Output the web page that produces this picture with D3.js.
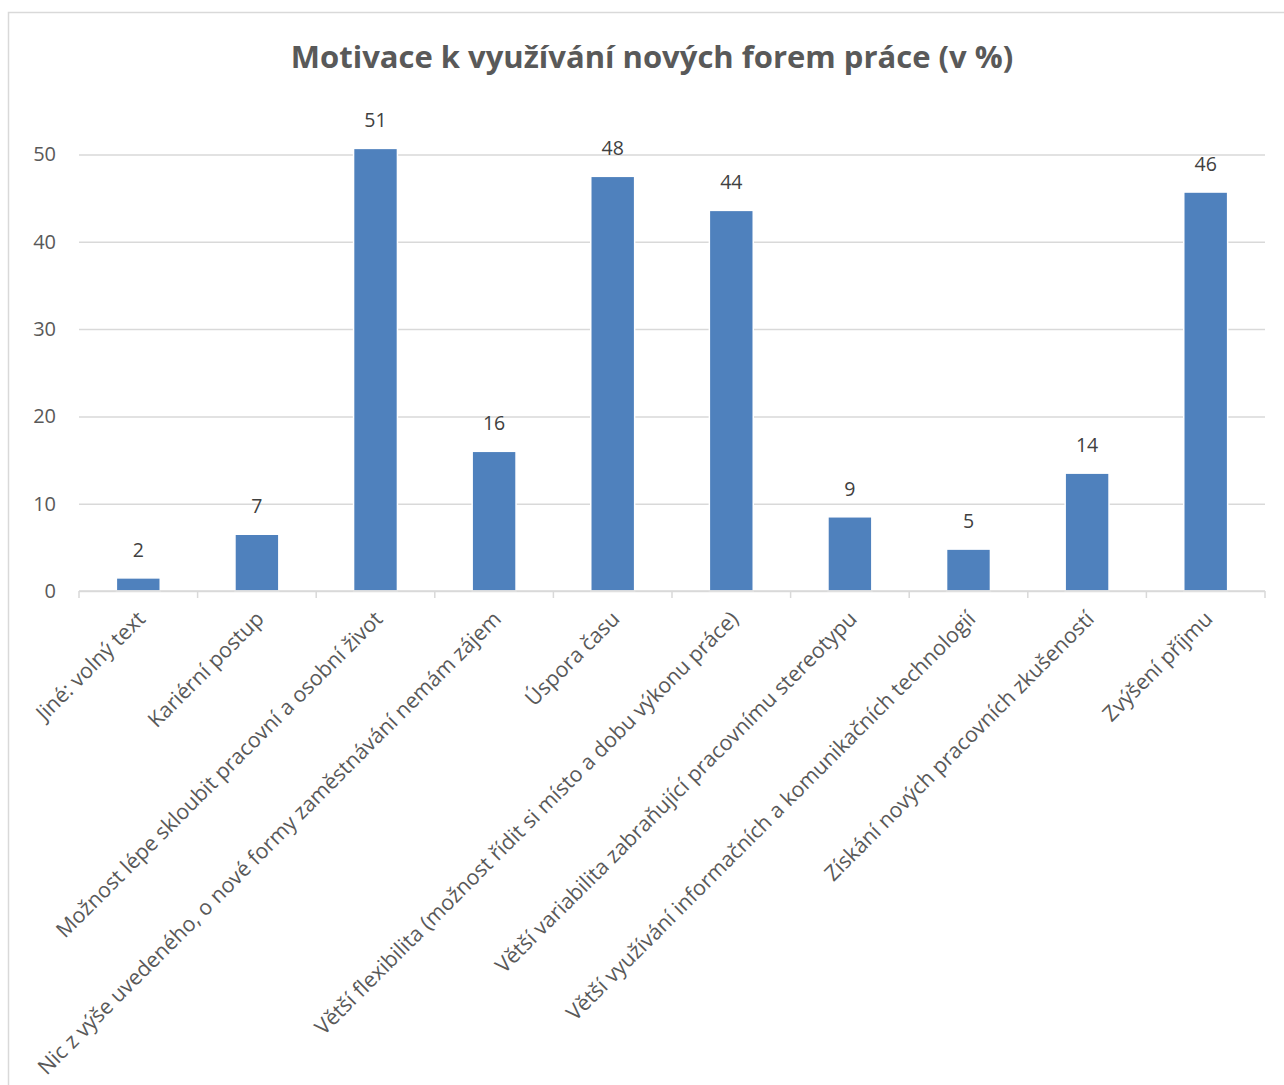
<!DOCTYPE html>
<html>
<head>
<meta charset="utf-8">
<script src="https://cdn.jsdelivr.net/npm/d3@7"></script>
<style>
  body { margin: 0; background: #fff; }
  svg { display: block; font-family: "Open Sans", Lato, sans-serif; }
</style>
</head>
<body>
<svg id="chart"></svg>
<script>
const title = "Motivace k využívání nových forem práce (v %)";
const categories = [
  "Jiné: volný text",
  "Kariérní postup",
  "Možnost lépe skloubit pracovní a osobní život",
  "Nic z výše uvedeného, o nové formy zaměstnávání nemám zájem",
  "Úspora času",
  "Větší flexibilita (možnost řídit si místo a dobu výkonu práce)",
  "Větší variabilita zabraňující pracovnímu stereotypu",
  "Větší využívání informačních a komunikačních technologií",
  "Získání nových pracovních zkušeností",
  "Zvýšení příjmu"
];
const values = [1.5, 6.5, 50.7, 16, 47.5, 43.6, 8.5, 4.8, 13.5, 45.7];
const yTicks = [0, 10, 20, 30, 40, 50];

const width = 1284;
const height = 1085;
const marginLeft = 79;
const marginRight = 19;
const baseY = 591;
const topY = 154.5;

const svg = d3.select("#chart")
  .attr("width", width)
  .attr("height", height);

// chart frame
svg.append("path")
  .attr("d", `M8.5,${height} V12.5 H${width}`)
  .attr("fill", "none")
  .attr("stroke", "#d9d9d9")
  .attr("stroke-width", 1.5);

const x = d3.scaleBand()
  .domain(categories)
  .range([marginLeft, width - marginRight])
  .paddingInner(0.63)
  .paddingOuter(0.315);

const y = d3.scaleLinear()
  .domain([0, 50])
  .range([baseY, topY]);

// title
svg.append("text")
  .attr("x", 652)
  .attr("y", 68)
  .attr("text-anchor", "middle")
  .attr("font-size", 31)
  .attr("font-weight", "bold")
  .attr("fill", "#595959")
  .text(title);

// y axis with gridlines
svg.append("g")
  .attr("transform", `translate(${marginLeft},0)`)
  .call(d3.axisLeft(y).tickValues(yTicks).tickSize(-(width - marginLeft - marginRight)).tickPadding(23))
  .call(g => g.select(".domain").remove())
  .call(g => g.selectAll(".tick line").attr("stroke", "#d9d9d9").attr("stroke-width", 1.5))
  .call(g => g.selectAll(".tick text")
    .attr("font-size", 20)
    .attr("fill", "#595959")
    .attr("font-family", "'Open Sans', Lato, sans-serif"));

// bars
svg.append("g")
  .selectAll("rect")
  .data(values)
  .join("rect")
  .attr("x", (d, i) => x(categories[i]))
  .attr("y", d => y(d))
  .attr("width", x.bandwidth())
  .attr("height", d => y(0) - y(d))
  .attr("fill", "#4f81bd")
  .attr("stroke", "#fff")
  .attr("stroke-width", 1.5);

// data labels
svg.append("g")
  .selectAll("text")
  .data(values)
  .join("text")
  .attr("x", (d, i) => x(categories[i]) + x.bandwidth() / 2)
  .attr("y", d => y(d) - 21)
  .attr("text-anchor", "middle")
  .attr("font-size", 19.5)
  .attr("fill", "#404040")
  .text(d => Math.round(d));

// x axis with category boundary ticks
const step = x.step();
const xAxis = svg.append("g")
  .attr("transform", `translate(0,${baseY})`);

xAxis.append("line")
  .attr("x1", marginLeft)
  .attr("x2", width - marginRight)
  .attr("stroke", "#d9d9d9")
  .attr("stroke-width", 1.5);

xAxis.selectAll(".bound")
  .data(d3.range(categories.length + 1))
  .join("line")
  .attr("class", "bound")
  .attr("x1", i => marginLeft + i * step)
  .attr("x2", i => marginLeft + i * step)
  .attr("y1", 0)
  .attr("y2", 7)
  .attr("stroke", "#d9d9d9")
  .attr("stroke-width", 1.5);

xAxis.selectAll(".cat")
  .data(categories)
  .join("text")
  .attr("class", "cat")
  .attr("transform", d => `translate(${x(d) + x.bandwidth() / 2 + 3},${24}) rotate(-45)`)
  .attr("text-anchor", "end")
  .attr("dy", "0.35em")
  .attr("font-size", 21.3)
  .attr("fill", "#595959")
  .text(d => d);
</script>
</body>
</html>
